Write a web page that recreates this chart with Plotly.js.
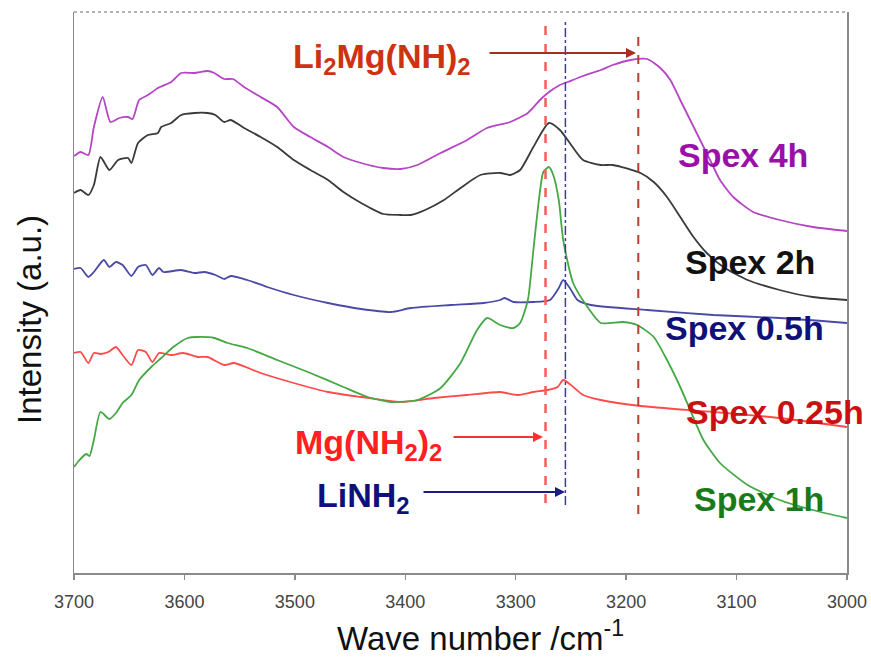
<!DOCTYPE html>
<html>
<head>
<meta charset="utf-8">
<script src="https://cdn.plot.ly/plotly-3.0.1.min.js"></script>
<style>
html,body{margin:0;padding:0;background:#fff;}
#chart{width:871px;height:663px;}
</style>
</head>
<body>
<div id="chart"></div>
<script>
// ---- Data (wave number in cm^-1, intensity in arbitrary units) ----
const seriesNames = ["Spex 4h", "Spex 2h", "Spex 0.5h", "Spex 0.25h", "Spex 1h"];

const spex4hX = [3700,3694,3687,3682,3674,3667,3659,3651,3647,3641,3633,3624,3612,3603,3591,3579,3573,3564,3556,3546,3531,3516,3501,3486,3470,3456,3440,3420,3404,3389,3368,3344,3326,3305,3289,3278,3271,3260,3253,3239,3223,3212,3196,3181,3169,3160,3151,3142,3133,3124,3115,3103,3085,3061,3031,3000];
const spex4hY = [415,419,416,444,474,449,453,454,452,471,476,483,489,498,498,500,498,492,492,484,474,464,444,434,424,414,408,403,402,406,418,431,443,449,458,471,478,486,489,495,501,506,511,512,503,491,471,451,431,411,391,374,359,351,344,340];

const spex2hX = [3700,3694,3687,3682,3676,3668,3660,3651,3648,3642,3633,3624,3621,3612,3603,3591,3579,3572,3564,3558,3546,3531,3516,3501,3486,3470,3456,3440,3420,3404,3395,3382,3365,3350,3332,3314,3305,3296,3284,3270,3260,3251,3239,3223,3212,3187,3175,3163,3151,3139,3127,3112,3090,3061,3031,3000];
const spex2hY = [378,381,376,386,414,401,411,413,408,428,436,438,444,448,456,458,458,456,449,451,443,434,424,411,401,391,379,368,357,356,356,361,371,383,396,398,396,401,424,448,441,428,411,406,406,398,389,374,354,334,318,304,291,281,274,271];

const spex05hX = [3700,3694,3687,3682,3673,3668,3662,3656,3648,3642,3635,3629,3623,3619,3603,3591,3582,3572,3564,3558,3543,3525,3501,3470,3440,3413,3395,3359,3329,3314,3310,3302,3284,3269,3261,3257,3251,3244,3232,3181,3121,3061,3000];
const spex05hY = [302,303,294,299,311,304,309,306,295,304,306,296,303,299,301,298,299,296,292,295,291,284,276,268,262,259,263,266,268,271,273,269,269,271,283,291,283,271,266,261,256,253,248];

const spex025hX = [3700,3694,3687,3682,3676,3669,3662,3656,3648,3642,3635,3629,3623,3612,3601,3588,3579,3564,3555,3531,3501,3470,3440,3404,3374,3344,3314,3298,3284,3271,3262,3257,3250,3239,3223,3187,3121,3061,3000];
const spex025hY = [218,219,208,218,217,219,224,216,206,221,219,209,218,216,218,214,214,206,208,198,188,179,174,169,173,176,179,176,179,181,184,191,186,176,171,165,159,153,144];

const spex1hX = [3700,3695,3689,3686,3682,3676,3668,3662,3656,3648,3641,3630,3621,3610,3597,3588,3573,3561,3543,3516,3486,3456,3434,3413,3389,3368,3350,3335,3326,3314,3302,3296,3289,3284,3279,3275,3270,3266,3261,3257,3248,3235,3223,3203,3190,3175,3163,3151,3142,3130,3115,3090,3061,3031,3000];
const spex1hY = [104,111,117,115,131,159,152,158,168,176,191,204,213,224,233,234,233,228,223,211,198,184,174,169,171,183,208,241,253,246,243,248,271,321,371,399,404,396,371,331,288,264,248,249,246,234,211,184,161,131,108,86,71,61,53];

// reference peak positions (cm^-1): Mg(NH2)2, LiNH2, Li2Mg(NH)2
const refNames = ["Mg(NH<sub>2</sub>)<sub>2</sub>", "LiNH<sub>2</sub>", "Li<sub>2</sub>Mg(NH)<sub>2</sub>"];
const refLines = [3273, 3255, 3189];

const xTickVals = [3700, 3600, 3500, 3400, 3300, 3200, 3100, 3000];
const xTickText = ["3700", "3600", "3500", "3400", "3300", "3200", "3100", "3000"];

// ---- Styling / layout ----
const FONT = "Liberation Sans, Arial, Helvetica, sans-serif";
const lineColors = ["#b545c4", "#3a3a3a", "#4a4aa6", "#ff4a4a", "#45a845"];
const labelColors = ["#9a0fa6", "#111111", "#10107a", "#cc1010", "#1a7a1a"];

const xs = [spex4hX, spex2hX, spex05hX, spex025hX, spex1hX];
const ys = [spex4hY, spex2hY, spex05hY, spex025hY, spex1hY];

const traces = seriesNames.map((n, i) => ({
  type: "scatter", mode: "lines", name: n,
  x: xs[i], y: ys[i],
  line: {color: lineColors[i], width: 1.8, shape: "spline", smoothing: 0.6},
  hoverinfo: "x+y+name"
}));

// plot-area pixel geometry helpers for text placement
const L = 74, R = 847, T = 12, B = 573;
const px = v => (v - L) / (R - L);
const py = v => (B - v) / (B - T);

const labelPos = [
  [743, 155], [750, 262], [744, 328], [775, 412], [759, 499]
];

const annotations = seriesNames.map((n, i) => ({
  xref: "paper", yref: "paper", x: px(labelPos[i][0]), y: py(labelPos[i][1]),
  xanchor: "center", yanchor: "middle", showarrow: false,
  text: "<b>" + n + "</b>", font: {family: FONT, size: 34, color: labelColors[i]}
}));

// reference labels
const refLabelColors = ["#ff2020", "#10107a", "#cc3311"];
const refLabelPos = [[293, 444], [315, 497], [291, 59]];
refNames.forEach((t, i) => {
  annotations.push({
    xref: "paper", yref: "paper", x: px(refLabelPos[i][0]), y: py(refLabelPos[i][1]),
    xanchor: "left", yanchor: "middle", showarrow: false,
    text: "<b>" + t + "</b>", font: {family: FONT, size: 34, color: refLabelColors[i]}
  });
});

// arrows
const arrowColors = ["#ff3030", "#1a1a88", "#a33020"];
const arrowHeads = [[543, 437, -91], [565, 492, -143], [636, 53, -148]];
arrowHeads.forEach((a, i) => {
  annotations.push({
    xref: "paper", yref: "paper", x: px(a[0]), y: py(a[1]),
    ax: a[2], ay: 0, text: "", showarrow: true,
    arrowhead: 2, arrowsize: 1, arrowwidth: 2, arrowcolor: arrowColors[i]
  });
});

// axis titles
annotations.push({
  xref: "paper", yref: "paper", x: px(29), y: py(320), xanchor: "center", yanchor: "middle",
  showarrow: false, textangle: -90, text: "Intensity (a.u.)",
  font: {family: FONT, size: 33, color: "#111"}
});
annotations.push({
  xref: "paper", yref: "paper", x: px(480), y: py(636), xanchor: "center", yanchor: "middle",
  showarrow: false, text: "Wave number /cm<sup>-1</sup>",
  font: {family: FONT, size: 33, color: "#111"}
});

const lineStyles = [
  {color: "#ff5a5a", dash: "dash", width: 2.5, y0: py(503), y1: py(22)},
  {color: "#3a3aaa", dash: "dashdot", width: 1.5, y0: py(505), y1: py(22)},
  {color: "#b04030", dash: "dash", width: 2, y0: py(514), y1: py(33)}
];
const shapes = refLines.map((v, i) => ({
  type: "line", xref: "x", yref: "paper", x0: v, x1: v,
  y0: lineStyles[i].y0, y1: lineStyles[i].y1,
  line: {color: lineStyles[i].color, dash: lineStyles[i].dash, width: lineStyles[i].width}
}));
shapes.push({type: "line", xref: "paper", yref: "paper", x0: 0, x1: 1, y0: 1, y1: 1,
  line: {color: "#9a9a9a", width: 1.5, dash: "dot"}});

const layout = {
  width: 871, height: 663,
  margin: {l: L, r: 871 - R, t: T, b: 663 - B, pad: 0},
  paper_bgcolor: "#fff", plot_bgcolor: "#fff",
  showlegend: false,
  xaxis: {
    range: [3700, 3000], tickmode: "array", tickvals: xTickVals, ticktext: xTickText,
    showgrid: false, zeroline: false, showline: true, linecolor: "#8a8a8a", linewidth: 2,
    ticks: "outside", ticklen: 5, tickwidth: 1.5, tickcolor: "#8a8a8a",
    ticklabelstandoff: 6,
    tickfont: {family: FONT, size: 18, color: "#444"}, automargin: false
  },
  yaxis: {
    range: [-2, 559], showticklabels: false, ticks: "", showgrid: false, zeroline: false,
    showline: true, mirror: true, linecolor: "#8a8a8a", linewidth: 1.5, automargin: false
  },
  annotations: annotations,
  shapes: shapes
};

Plotly.newPlot("chart", traces, layout, {displayModeBar: false, staticPlot: true});
</script>
</body>
</html>
